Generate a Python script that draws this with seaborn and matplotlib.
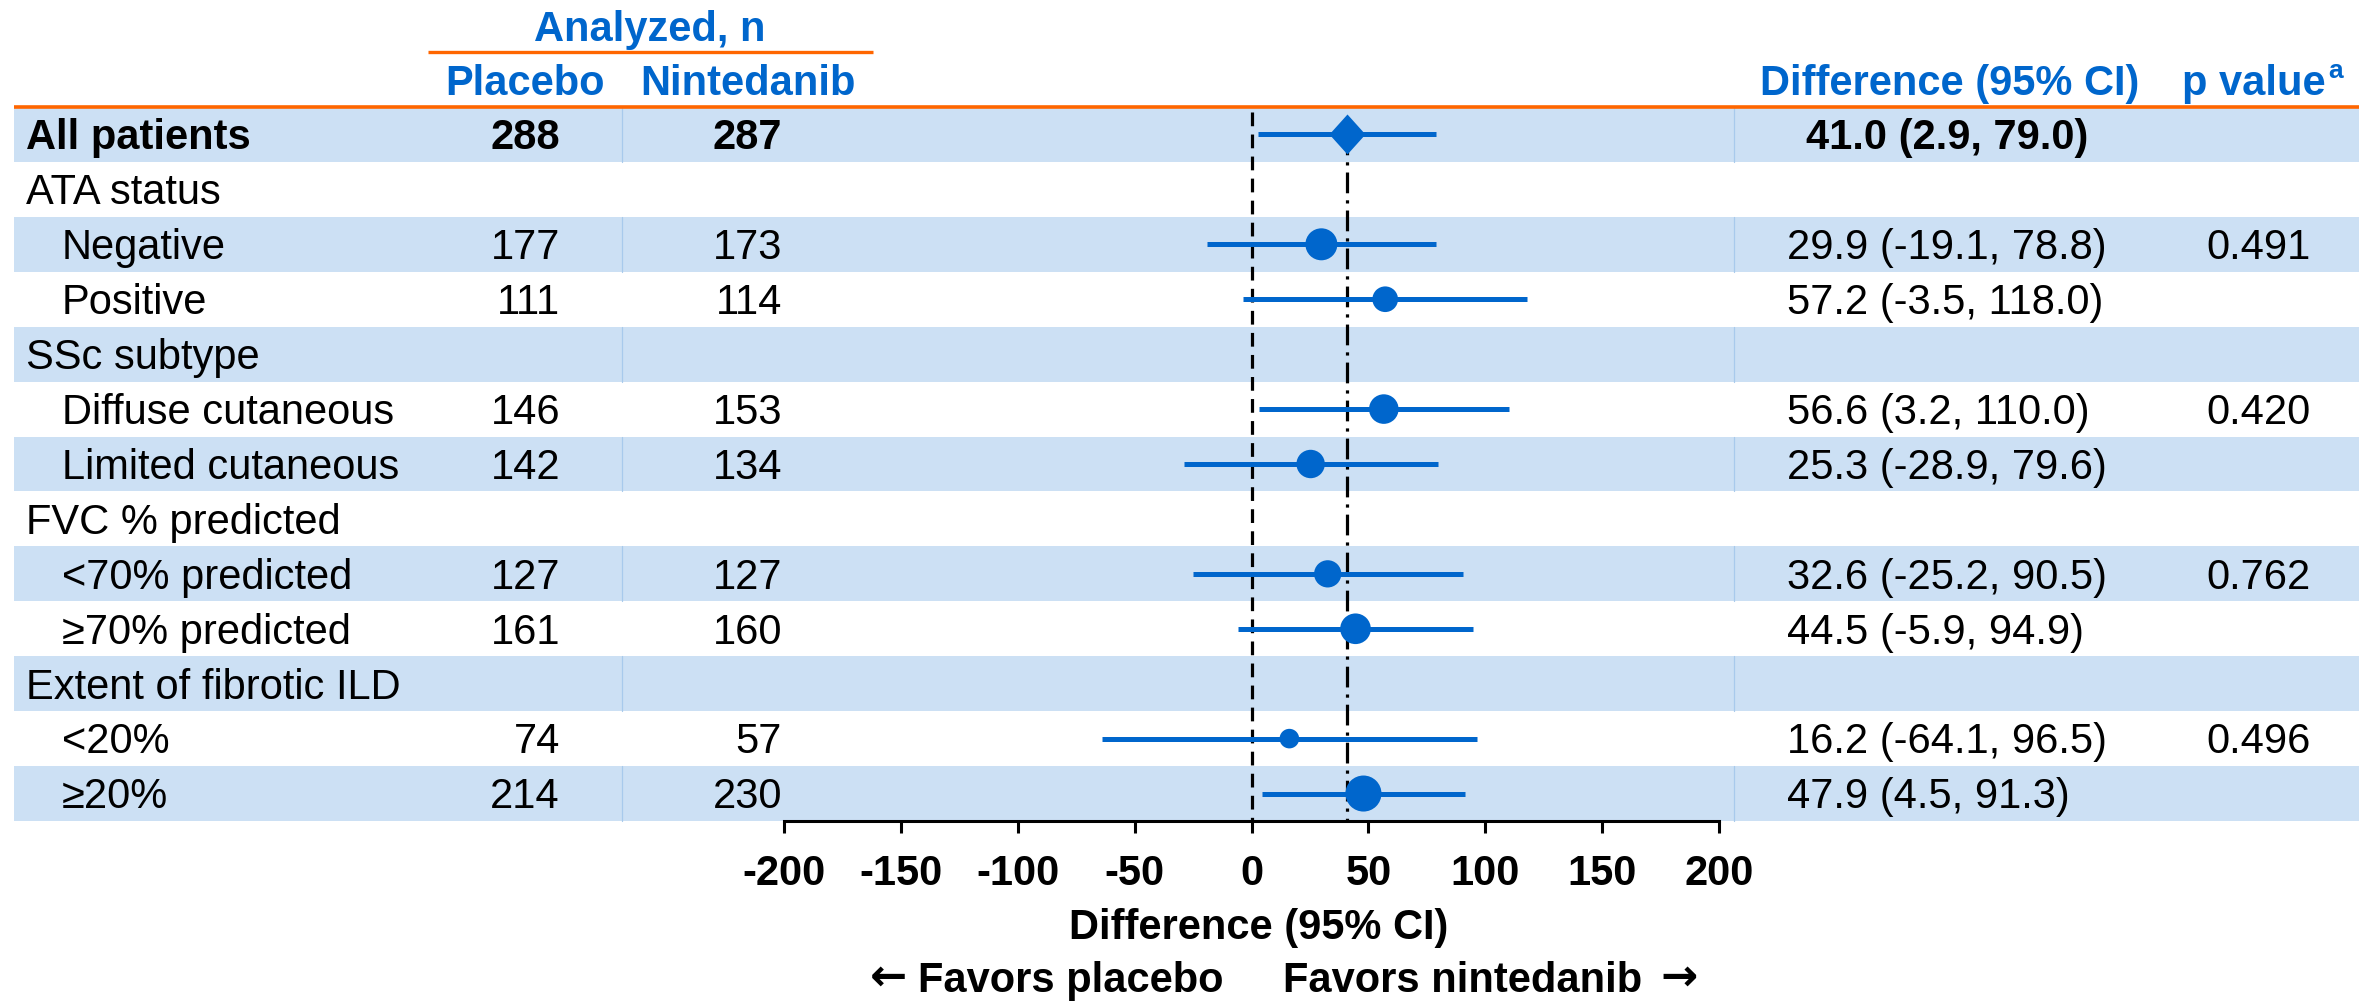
import numpy as np
import pandas as pd
import matplotlib
matplotlib.use("Agg")
import matplotlib.pyplot as plt
from matplotlib import transforms as mtransforms
from matplotlib.patches import Rectangle
from matplotlib.markers import MarkerStyle
from matplotlib.path import Path
import seaborn as sns

# ---- data -----------------------------------------------------------------
labels = ["All patients", "ATA status", "Negative", "Positive", "SSc subtype",
          "Diffuse cutaneous", "Limited cutaneous", "FVC % predicted",
          "<70% predicted", "≥70% predicted", "Extent of fibrotic ILD",
          "<20%", "≥20%"]
indent = [0, 0, 1, 1, 0, 1, 1, 0, 1, 1, 0, 1, 1]
n_placebo = [288, None, 177, 111, None, 146, 142, None, 127, 161, None, 74, 214]
n_nintedanib = [287, None, 173, 114, None, 153, 134, None, 127, 160, None, 57, 230]
diff = [41.0, None, 29.9, 57.2, None, 56.6, 25.3, None, 32.6, 44.5, None, 16.2, 47.9]
ci_low = [2.9, None, -19.1, -3.5, None, 3.2, -28.9, None, -25.2, -5.9, None, -64.1, 4.5]
ci_high = [79.0, None, 78.8, 118.0, None, 110.0, 79.6, None, 90.5, 94.9, None, 96.5, 91.3]
p_values = [None, None, "0.491", None, None, "0.420", None, None, "0.762", None, None, "0.496", None]
x_ticks = [-200, -150, -100, -50, 0, 50, 100, 150, 200]

# ---- style ----------------------------------------------------------------
BLUE = "#0066CC"
BAND = "#CCE0F4"
DIVIDER = "#A8CAEC"
ORANGE = "#FF6600"
FS = 30

sns.set_theme(style="ticks")
plt.rcParams["font.family"] = ["Liberation Sans", "DejaVu Sans"]

W, H = 2372, 1002
fig = plt.figure(figsize=(W / 100, H / 100), dpi=100)
fig.patch.set_facecolor("white")

# background layer in pixel units for table text and bands
bg = fig.add_axes([0, 0, 1, 1])
bg.set_xlim(0, W)
bg.set_ylim(H, 0)
bg.axis("off")

# forest plot axes
X0, X1, YT, YB = 784, 1719, 107, 821
ax = fig.add_axes([X0 / W, 1 - YB / H, (X1 - X0) / W, (YB - YT) / H])
ax.set_facecolor("none")

nrows = len(labels)
rows = np.arange(nrows)

df = pd.DataFrame({
    "row": rows,
    "label": labels,
    "diff": pd.to_numeric(pd.Series(diff), errors="coerce"),
    "lo": pd.to_numeric(pd.Series(ci_low), errors="coerce"),
    "hi": pd.to_numeric(pd.Series(ci_high), errors="coerce"),
    "n_pbo": pd.Series(n_placebo, dtype="float"),
    "n_nin": pd.Series(n_nintedanib, dtype="float"),
})
df["n_total"] = df["n_pbo"] + df["n_nin"]
est = df.dropna(subset=["diff"])
overall = est[est["row"] == 0]
subgroups = est[est["row"] > 0]

# reference lines: no difference, and the overall estimate
ax.vlines(0, -0.4, nrows - 0.5, colors="black", lw=2.3,
          linestyles=(0, (4.3, 2.6)), zorder=2)
ax.vlines(overall["diff"], 0, nrows - 0.5, colors="black", lw=2.3,
          linestyles=(0, (6.5, 2.2, 1.0, 2.2)), zorder=2)

# confidence intervals
ax.hlines(est["row"], est["lo"], est["hi"], colors=BLUE, lw=3.6, zorder=3)

# subgroup estimates, marker area proportional to analyzed n
sns.scatterplot(data=subgroups, x="diff", y="row", size="n_total",
                sizes=(0, 1516), size_norm=(0, 1000), color=BLUE,
                linewidth=0, legend=False, ax=ax, zorder=4)

# overall estimate as diamond
diamond = MarkerStyle(Path([(0, 1), (0.9, 0), (0, -1), (-0.9, 0), (0, 1)],
                           [Path.MOVETO, Path.LINETO, Path.LINETO, Path.LINETO,
                            Path.CLOSEPOLY]))
sns.scatterplot(data=overall, x="diff", y="row", marker=diamond, s=830,
                color=BLUE, linewidth=0, legend=False, ax=ax, zorder=5)

ax.set_xlim(-200, 200)
ax.set_ylim(nrows - 0.5, -0.5)
ax.set_yticks([])
ax.set_ylabel("")
ax.set_xticks(x_ticks)
ax.set_xticklabels([str(t) for t in x_ticks], fontsize=FS, fontweight="bold")
for side in ["left", "top", "right"]:
    ax.spines[side].set_visible(False)
ax.spines["bottom"].set_color("black")
ax.spines["bottom"].set_linewidth(2.2)
ax.tick_params(axis="x", bottom=True, direction="out", length=8.6, width=2.2,
               pad=15, colors="black")
ax.set_xlabel("")

# ---- table ----------------------------------------------------------------
row_tf = mtransforms.blended_transform_factory(bg.transData, ax.transData)
BASE = 0.27  # baseline offset within a row

for i in rows:
    if i % 2 == 0:
        bg.add_patch(Rectangle((14, i - 0.5), 2345, 1, transform=row_tf,
                               facecolor=BAND, edgecolor="none", zorder=0))
        for xd in (622, 1734):
            bg.plot([xd, xd], [i - 0.5, i + 0.5], transform=row_tf,
                    color=DIVIDER, lw=0.9, zorder=1)

for i, row in df.iterrows():
    bold = i == 0
    weight = "bold" if bold else "normal"
    x_lab = 62 if indent[i] else 26
    bg.text(x_lab, i + BASE, row["label"], transform=row_tf, fontsize=FS,
            fontweight=weight, ha="left", va="baseline", color="black")
    if n_placebo[i] is not None:
        bg.text(560, i + BASE, str(n_placebo[i]), transform=row_tf, fontsize=FS,
                fontweight=weight, ha="right", va="baseline", color="black")
        bg.text(782, i + BASE, str(n_nintedanib[i]), transform=row_tf, fontsize=FS,
                fontweight=weight, ha="right", va="baseline", color="black")
    if diff[i] is not None:
        txt = f"{diff[i]:.1f} ({ci_low[i]:.1f}, {ci_high[i]:.1f})"
        bg.text(1806 if bold else 1787, i + BASE, txt, transform=row_tf,
                fontsize=FS, fontweight=weight, ha="left", va="baseline",
                color="black")
    if p_values[i] is not None:
        bg.text(2259, i + BASE, p_values[i], transform=row_tf, fontsize=FS,
                ha="center", va="baseline", color="black")

# header
hdr = dict(fontsize=FS, fontweight="bold", color=BLUE, va="baseline")
bg.text(650, 41, "Analyzed, n", ha="center", **hdr)
bg.plot([428, 873], [52, 52], color=ORANGE, lw=2.4, solid_capstyle="butt")
bg.text(525, 95, "Placebo", ha="center", **hdr)
bg.text(748, 95, "Nintedanib", ha="center", **hdr)
bg.text(1950, 95, "Difference (95% CI)", ha="center", **hdr)
bg.text(2182, 95, "p value", ha="left", **hdr)
bg.text(2328, 78, "a", ha="left", fontsize=19, fontweight="bold", color=BLUE,
        va="baseline")
bg.plot([14, 2359], [107, 107], color=ORANGE, lw=2.6, solid_capstyle="butt",
        zorder=3)

# axis title and direction labels
bg.text(1259, 939, "Difference (95% CI)", ha="center", va="baseline",
        fontsize=FS, fontweight="bold", color="black")
arrow_kw = dict(va="baseline", fontsize=32, fontweight="bold", color="black",
                family="DejaVu Sans")
bg.text(907, 990, "←", ha="right", **arrow_kw)
bg.text(918, 992, "Favors placebo", ha="left", va="baseline",
        fontsize=FS, fontweight="bold", color="black")
bg.text(1283, 992, "Favors nintedanib", ha="left", va="baseline",
        fontsize=FS, fontweight="bold", color="black")
bg.text(1660, 990, "→", ha="left", **arrow_kw)

fig.savefig("out.png", dpi=100, facecolor="white")
